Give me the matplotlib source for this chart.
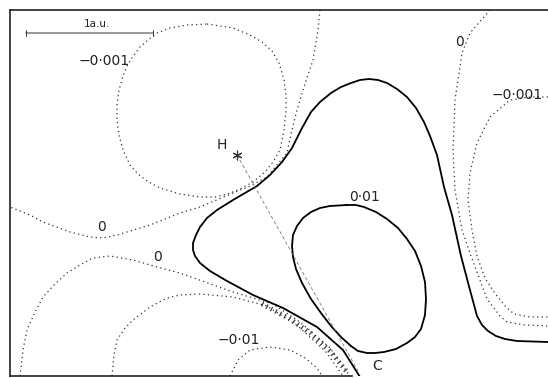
import matplotlib.pyplot as plt

# contour traces (pixel units of the original figure)
circle_x = [207, 233, 250, 262, 272, 279, 284, 286, 286, 284, 280, 273, 265, 253, 240, 228, 215, 200, 180, 160, 147, 138, 130, 123, 119, 117, 117, 119, 123, 128, 134, 140, 148, 157, 170, 187, 207]
circle_y = [24, 28, 35, 42, 51, 63, 80, 95, 110, 130, 150, 162, 172, 182, 189, 194, 197, 197, 194, 188, 181, 174, 165, 150, 135, 120, 105, 90, 76, 64, 55, 47, 40, 33, 28, 25, 24]

zero_up_x = [320, 318, 313, 303, 297, 292, 287, 277, 267, 250, 233, 200, 180, 150, 117, 103, 90, 70, 43, 30, 10]
zero_up_y = [10, 30, 60, 90, 110, 130, 153, 165, 177, 186, 193, 207, 213, 225, 235, 238, 237, 232, 222, 215, 207]

solid_x = [548, 517, 505, 496, 488, 482, 477, 470, 461, 452, 444, 437, 430, 424, 416, 407, 397, 387, 378, 369, 360, 351, 341, 331, 320, 311, 302, 292, 282, 270, 257, 245, 233, 217, 207, 200, 196, 193, 193, 195, 200, 210, 227, 253, 283, 317, 343, 360]
solid_y = [342, 341, 339, 336, 331, 325, 316, 290, 256, 215, 187, 155, 136, 122, 108, 97, 89, 83, 80, 79, 80, 83, 87, 93, 102, 112, 128, 148, 162, 175, 186, 193, 200, 210, 218, 227, 235, 243, 250, 256, 263, 271, 281, 295, 308, 327, 350, 377]

zero_right_x = [490, 470, 462, 455, 453, 455, 462, 471, 480, 487, 500, 507, 525, 548]
zero_right_y = [10, 33, 53, 100, 150, 190, 230, 256, 280, 299, 316, 322, 325, 326]

neg_right_x = [548, 530, 510, 490, 477, 470, 468, 472, 477, 485, 494, 505, 514, 530, 548]
neg_right_y = [97, 97, 100, 117, 143, 173, 200, 230, 256, 278, 292, 306, 314, 317, 317]

zero_low_x = [20, 23, 27, 35, 43, 55, 67, 80, 93, 110, 133, 157, 180, 205, 233, 273, 300, 330, 350]
zero_low_y = [376, 350, 330, 312, 297, 284, 273, 265, 258, 256, 260, 267, 273, 282, 292, 304, 322, 348, 376]

neg_low_x = [112, 114, 117, 125, 133, 150, 167, 180, 200, 233, 267, 298, 326, 343]
neg_low_y = [376, 355, 340, 328, 320, 307, 298, 295, 294, 297, 306, 326, 352, 376]

hatch_x = [262, 290, 310, 330, 347]
hatch_y = [304, 319, 333, 351, 372]

neg01_x = [230, 238, 250, 270, 290, 305, 317, 322]
neg01_y = [376, 360, 350, 347, 350, 358, 368, 376]

pos01_x = [347, 356, 364, 376, 387, 398, 407, 415, 421, 425, 426, 425, 421, 415, 407, 396, 384, 375, 367, 358, 351, 341, 331, 321, 311, 302, 296, 293, 292, 293, 297, 303, 311, 320, 330, 347]
pos01_y = [205, 205, 207, 212, 219, 228, 239, 251, 266, 282, 299, 315, 329, 337, 343, 349, 352, 353, 353, 351, 346, 337, 326, 313, 299, 283, 269, 257, 246, 235, 226, 218, 212, 208, 206, 205]

atom_x = [237, 358]
atom_y = [155, 371]

fig = plt.figure(figsize=(5.48, 3.78), dpi=100)
ax = fig.add_axes([10 / 548, 2 / 378, 538 / 548, 366 / 378])
ax.set_xlim(10, 548)
ax.set_ylim(376, 10)
ax.set_xticks([])
ax.set_yticks([])
ax.spines['right'].set_visible(False)
for s in ['left', 'top', 'bottom']:
    ax.spines[s].set_linewidth(1.2)
    ax.spines[s].set_color('#222222')
ax.spines['bottom'].set_bounds(10, 352)

dot = dict(color='#333333', lw=0.9, linestyle=(0, (1, 2.6)))
ax.plot(circle_x, circle_y, **dot)
ax.plot(zero_up_x, zero_up_y, **dot)
ax.plot(zero_right_x, zero_right_y, **dot)
ax.plot(neg_right_x, neg_right_y, **dot)
ax.plot(zero_low_x, zero_low_y, **dot)
ax.plot(neg_low_x, neg_low_y, **dot)
ax.plot(neg01_x, neg01_y, **dot)
ax.plot(hatch_x, hatch_y, color='#333333', lw=3.5, linestyle=(0, (0.25, 0.8)))

ax.plot(solid_x, solid_y, color='black', lw=1.3)
ax.plot(pos01_x, pos01_y, color='black', lw=1.3)

# H-C bond line
ax.plot(atom_x, atom_y, color='#777777', lw=0.6, linestyle=(0, (4, 3)))
ax.plot(atom_x[0], atom_y[0], marker=(6, 2, 0), color='#333333', ms=7, mew=0.8)

txt = dict(fontsize=10, color='#222222', ha='center', va='center')
ax.text(104, 61, '\u22120\u00b7001', **txt)
ax.text(517, 95, '\u22120\u00b7001', **txt)
ax.text(460, 42, '0', **txt)
ax.text(102, 227, '0', **txt)
ax.text(158, 257, '0', **txt)
ax.text(365, 197, '0\u00b701', **txt)
ax.text(239, 340, '\u22120\u00b701', **txt)
ax.text(222, 145, 'H', **txt)
ax.text(377, 366, 'C', **txt)

# scale bar
ax.annotate('', xy=(23, 33), xytext=(156, 33),
            arrowprops=dict(arrowstyle='|-|', lw=0.7, color='#333333', mutation_scale=2.5))
ax.text(97, 24, '1a.u.', fontsize=7.5, color='#222222', ha='center', va='center')

fig.savefig('out.png', dpi=100)
